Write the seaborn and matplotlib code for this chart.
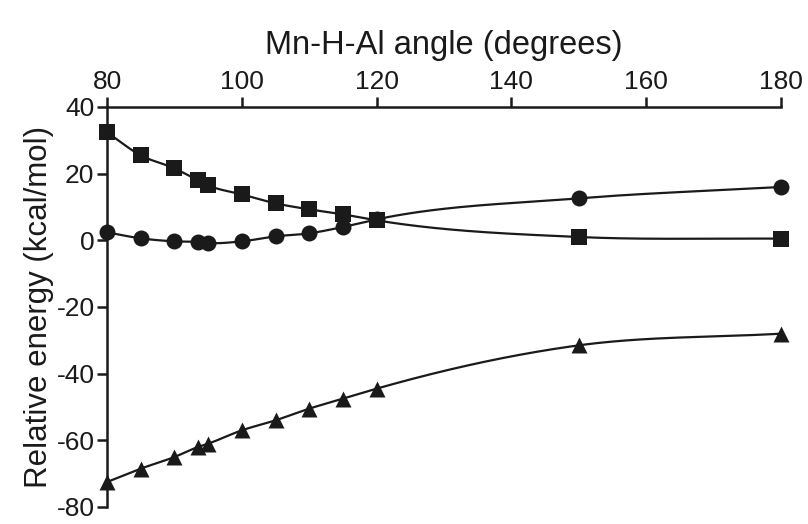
import numpy as np
import pandas as pd
import matplotlib
matplotlib.use("Agg")
import matplotlib.pyplot as plt
import seaborn as sns

# Mn-H-Al angle (degrees) and relative energies (kcal/mol)
angles = [80, 85, 90, 93.5, 95, 100, 105, 110, 115, 120, 150, 180]
square_energy = [32.4, 25.5, 21.6, 18.0, 16.5, 13.8, 11.1, 9.3, 7.8, 6.0, 1.0, 0.5]
circle_energy = [2.4, 0.6, -0.3, -0.5, -0.8, -0.3, 1.2, 2.1, 4.0, 6.3, 12.6, 16.0]
triangle_energy = [-72.5, -68.5, -65.0, -62.0, -61.0, -57.0, -54.0, -50.5, -47.5, -44.5, -31.5, -28.0]

x_ticks = [80, 100, 120, 140, 160, 180]
y_ticks = [40, 20, 0, -20, -40, -60, -80]


def smooth_curve(x, y, n=400):
    """Cubic Hermite curve through (x, y) with finite-difference tangents."""
    x = np.asarray(x, float)
    y = np.asarray(y, float)
    k = len(x)
    h = np.diff(x)
    s = np.diff(y) / h
    m = np.empty(k)
    m[0], m[-1] = s[0], s[-1]
    for i in range(1, k - 1):
        m[i] = (s[i - 1] * h[i] + s[i] * h[i - 1]) / (h[i - 1] + h[i])
    xs = np.linspace(x[0], x[-1], n)
    idx = np.clip(np.searchsorted(x, xs, side="right") - 1, 0, k - 2)
    t = (xs - x[idx]) / h[idx]
    h00 = 2 * t ** 3 - 3 * t ** 2 + 1
    h10 = t ** 3 - 2 * t ** 2 + t
    h01 = -2 * t ** 3 + 3 * t ** 2
    h11 = t ** 3 - t ** 2
    ys = (h00 * y[idx] + h10 * h[idx] * m[idx]
          + h01 * y[idx + 1] + h11 * h[idx] * m[idx + 1])
    return xs, ys


sns.set_style("ticks")
plt.rcParams["font.family"] = ["Liberation Sans", "DejaVu Sans"]
plt.rcParams["axes.unicode_minus"] = False

fig = plt.figure(figsize=(8.08, 5.24), dpi=100)
ax = fig.add_axes([107 / 808, 17 / 524, 674 / 808, 400 / 524])

ink = "#1a1a1a"
series = [
    ("square", square_energy, "s", 12),
    ("circle", circle_energy, "o", 11.5),
    ("triangle", triangle_energy, "^", 11.5),
]

for name, energy, marker, msize in series:
    xs, ys = smooth_curve(angles, energy)
    sns.lineplot(x=xs, y=ys, ax=ax, color=ink, linewidth=1.6,
                 clip_on=False, zorder=2)
    pts = pd.DataFrame({"angle": angles, "energy": energy})
    sns.scatterplot(data=pts, x="angle", y="energy", ax=ax, marker=marker,
                    s=msize ** 2, color=ink, edgecolor=ink,
                    linewidth=0, clip_on=False, zorder=3)

ax.set_xlim(80, 180)
ax.set_ylim(-80, 40)
ax.set_xticks(x_ticks)
ax.set_yticks(y_ticks)
ax.xaxis.tick_top()
ax.xaxis.set_label_position("top")

for side in ("bottom", "right"):
    ax.spines[side].set_visible(False)
for side in ("top", "left"):
    ax.spines[side].set_linewidth(1.8)
    ax.spines[side].set_color(ink)

ax.tick_params(axis="both", direction="out", length=7, width=1.8,
               color=ink, labelsize=19, labelcolor=ink, pad=2)

ax.set_xlabel("Mn-H-Al angle (degrees)", fontsize=23.5, color=ink, labelpad=12)
ax.set_ylabel("Relative energy (kcal/mol)", fontsize=22.5, color=ink, labelpad=2)

fig.savefig("out.png", dpi=100, facecolor="white")
